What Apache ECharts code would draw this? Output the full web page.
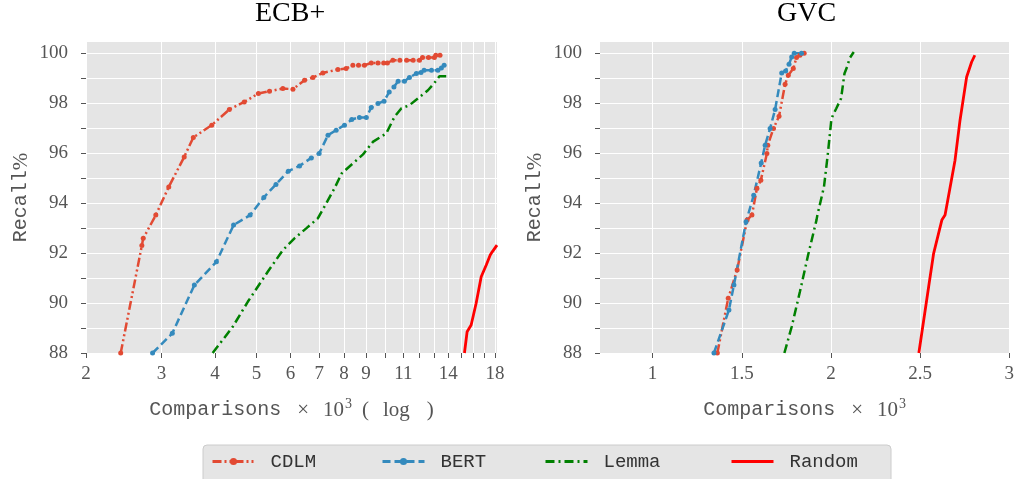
<!DOCTYPE html>
<html><head><meta charset="utf-8">
<script src="https://cdn.jsdelivr.net/npm/echarts@6/dist/echarts.min.js"></script>
<style>html,body{margin:0;padding:0;background:#fff}#c{width:1017px;height:479px}</style>
</head><body><div id="c"></div>
<script>
// ---------- data ----------
const seriesNames = ['CDLM', 'BERT', 'Lemma', 'Random'];
const panelTitles = ['ECB+', 'GVC'];
const ecbTickValues = [2, 3, 4, 5, 6, 7, 8, 9, 10, 11, 12, 13, 14, 15, 16, 17, 18];
const ecbLabelValues = [2, 3, 4, 5, 6, 7, 8, 9, 11, 14, 18];
const gvcTickValues = [1, 1.5, 2, 2.5, 3];
const recallTickValues = [88, 89, 90, 91, 92, 93, 94, 95, 96, 97, 98, 99, 100];
const recallLabelValues = [88, 90, 92, 94, 96, 98, 100];

// ECB+ (x: comparisons x 10^3, y: recall %)
const ecbCDLM = [[2.41,88],[2.70,92.3],[2.72,92.59],[2.91,93.52],[3.12,94.65],[3.39,95.85],[3.56,96.63],[3.93,97.12],
  [4.32,97.75],[4.68,98.05],[5.05,98.39],[5.36,98.48],[5.76,98.59],[6.08,98.56],[6.47,98.92],[6.77,99.03],[7.14,99.21],
  [7.74,99.35],[8.09,99.39],[8.39,99.52],[8.65,99.52],[8.93,99.52],[9.26,99.61],[9.6,99.61],[9.9,99.61],[10.1,99.61],
  [10.4,99.72],[10.8,99.72],[11.2,99.72],[11.6,99.72],[12.0,99.72],[12.2,99.83],[12.6,99.83],[13.0,99.83],[13.1,99.92],[13.4,99.92]];
const ecbBERT = [[2.86,88],[3.18,88.79],[3.58,90.72],[4.03,91.65],[4.42,93.12],[4.83,93.52],[5.2,94.23],[5.55,94.75],
  [5.93,95.28],[6.3,95.49],[6.71,95.81],[7.0,95.99],[7.34,96.72],[7.67,96.92],[8.02,97.12],[8.34,97.35],[8.69,97.43],
  [9.02,97.43],[9.26,97.83],[9.6,97.99],[9.92,98.08],[10.2,98.45],[10.46,98.65],[10.7,98.88],[11.07,98.88],[11.37,99.03],
  [11.8,99.19],[12.1,99.23],[12.3,99.32],[12.8,99.32],[13.25,99.32],[13.5,99.41],[13.7,99.52]];
const ecbLemma = [[3.95,88],[4.4,89.05],[4.77,90.05],[5.31,91.25],[5.76,92.12],[6.13,92.59],[6.53,92.99],[6.95,93.39],
  [7.27,93.99],[7.6,94.59],[7.9,95.19],[8.39,95.59],[8.86,95.95],[9.34,96.45],[10.04,96.79],[10.49,97.45],[10.88,97.79],
  [11.37,97.92],[11.9,98.19],[12.56,98.52],[13.0,98.81],[13.36,99.08],[13.98,99.08]];
const ecbRandom = [[15.28,88],[15.5,88.85],[15.84,89.12],[16.27,89.99],[16.72,91.05],[17.18,91.52],[17.55,91.92],[17.74,92.05],[18.2,92.32]];

// GVC
const gvcCDLM = [[1.363,88],[1.424,90.19],[1.474,91.32],[1.53,93.32],[1.557,93.52],[1.585,94.59],[1.607,94.92],[1.641,95.99],
  [1.646,96.32],[1.678,96.99],[1.709,97.48],[1.743,98.76],[1.761,99.12],[1.789,99.39],[1.807,99.83],[1.826,99.92],[1.85,100.0]];
const gvcBERT = [[1.344,88],[1.428,89.72],[1.456,90.72],[1.524,93.25],[1.567,94.32],[1.609,95.61],[1.631,96.32],[1.659,96.99],
  [1.687,97.75],[1.724,99.21],[1.746,99.29],[1.765,99.56],[1.78,99.85],[1.794,100.0],[1.835,100.0]];
const gvcLemma = [[1.739,88],[1.78,89.05],[1.826,90.45],[1.872,91.92],[1.919,93.32],[1.924,93.52],[1.961,94.65],[1.983,95.99],
  [2.002,97.32],[2.011,97.52],[2.03,97.79],[2.057,98.19],[2.076,99.19],[2.094,99.52],[2.104,99.79],[2.128,100.05]];
const gvcRandom = [[2.493,88],[2.548,90.65],[2.576,91.99],[2.622,93.32],[2.64,93.52],[2.696,95.72],[2.724,97.32],[2.761,99.05],[2.789,99.65],[2.807,99.92]];

// ---------- styling ----------
const serif = 'Liberation Serif';
const mono = 'Liberation Mono';
const grey = '#555';
const styles = {
  CDLM:   {color: '#E24A33', dash: [9, 3, 2, 3, 2, 3], width: 2.5, symbol: true},
  BERT:   {color: '#348ABD', dash: [8, 4], width: 2.5, symbol: true},
  Lemma:  {color: '#008000', dash: [9, 4, 2, 4], width: 2.5, symbol: false},
  Random: {color: '#FF0000', dash: 'solid', width: 2.8, symbol: false}
};
const LH = 26;
const nameRich = {
  m: {fontFamily: mono, fontSize: 20, color: grey, lineHeight: LH},
  x: {fontFamily: serif, fontSize: 21, color: grey, lineHeight: LH, padding: [0, 14, 0, 16]},
  s: {fontFamily: serif, fontSize: 21, color: grey, lineHeight: LH},
  p1: {fontFamily: serif, fontSize: 21, color: grey, lineHeight: LH, padding: [0, 0, 0, 10]},
  p2: {fontFamily: serif, fontSize: 21, color: grey, lineHeight: LH, padding: [0, 0, 0, 14]},
  p3: {fontFamily: serif, fontSize: 21, color: grey, lineHeight: LH, padding: [0, 0, 0, 17]},
  sup: {fontFamily: serif, fontSize: 14, color: grey, lineHeight: 12, verticalAlign: 'top', padding: [0, 0, 0, 1]}
};

function yAxis(gi) {
  return {
    type: 'value', gridIndex: gi, min: 88, max: 100.45,
    axisLine: {show: false},
    axisTick: {show: true, customValues: recallTickValues, length: 5, lineStyle: {color: grey}},
    axisLabel: {customValues: recallLabelValues, fontFamily: serif, fontSize: 19, color: grey, margin: 18},
    splitLine: {show: true, lineStyle: {color: '#ffffff', width: 1}},
    name: '{m|Recall}{s|%}', nameLocation: 'middle', nameGap: 52, nameRotate: 90,
    nameTextStyle: {rich: nameRich}
  };
}

function mkSeries(name, data, xi) {
  const s = styles[name];
  return {
    type: 'line', name: name, xAxisIndex: xi, yAxisIndex: xi, data: data,
    symbol: s.symbol ? 'circle' : 'none', showSymbol: s.symbol, symbolSize: 5,
    itemStyle: {color: s.color},
    lineStyle: {color: s.color, width: s.width, type: s.dash},
    animation: false, clip: true, z: 3
  };
}

const dataByPanel = [
  {CDLM: ecbCDLM, BERT: ecbBERT, Lemma: ecbLemma, Random: ecbRandom},
  {CDLM: gvcCDLM, BERT: gvcBERT, Lemma: gvcLemma, Random: gvcRandom}
];
const series = [];
dataByPanel.forEach((d, i) => seriesNames.forEach(n => series.push(mkSeries(n, d[n], i))));

const legendLefts = [211, 381, 544, 730];
const legends = seriesNames.map((n, i) => ({
  data: [styles[n].symbol ? {name: n} : {name: n, itemStyle: {opacity: 0}}],
  left: legendLefts[i], top: 452, padding: 0, z: 10,
  itemWidth: 42, itemHeight: 9,
  lineStyle: {width: 3},
  textStyle: {fontFamily: mono, fontSize: 19, color: '#333', padding: [0, 0, 0, 11]}
}));

const chart = echarts.init(document.getElementById('c'), null, {renderer: 'canvas'});
chart.setOption({
  animation: false,
  backgroundColor: '#ffffff',
  title: [
    {text: panelTitles[0], left: 255, top: 0, padding: 0, textStyle: {fontFamily: serif, fontSize: 28, fontWeight: 'normal', color: '#000'}},
    {text: panelTitles[1], left: 777, top: 0, padding: 0, textStyle: {fontFamily: serif, fontSize: 28, fontWeight: 'normal', color: '#000'}}
  ],
  grid: [
    {left: 86, top: 42, width: 411, height: 311, show: true, backgroundColor: '#E5E5E5', borderWidth: 0},
    {left: 600, top: 42, width: 412, height: 311, show: true, backgroundColor: '#E5E5E5', borderWidth: 0}
  ],
  xAxis: [
    {
      type: 'log', logBase: 10, gridIndex: 0, min: 2, max: 18.2,
      axisLine: {show: false},
      axisTick: {show: true, customValues: ecbTickValues, length: 5, lineStyle: {color: grey}},
      axisLabel: {customValues: ecbLabelValues, fontFamily: serif, fontSize: 19, color: grey, margin: 12,
        formatter: v => String(Math.round(v))},
      splitLine: {show: true, lineStyle: {color: '#ffffff', width: 1}},
      name: '{m|Comparisons}{x|×}{s|10}{sup|3}{p1|(}{p2|log}{p3|)}', nameLocation: 'middle', nameGap: 44,
      nameTextStyle: {rich: nameRich}
    },
    {
      type: 'value', gridIndex: 1, min: 0.705, max: 3,
      axisLine: {show: false},
      axisTick: {show: true, customValues: gvcTickValues, length: 5, lineStyle: {color: grey}},
      axisLabel: {customValues: gvcTickValues, fontFamily: serif, fontSize: 19, color: grey, margin: 12,
        formatter: v => String(v)},
      splitLine: {show: true, lineStyle: {color: '#ffffff', width: 1}},
      name: '{m|Comparisons}{x|×}{s|10}{sup|3}', nameLocation: 'middle', nameGap: 44,
      nameTextStyle: {rich: nameRich}
    }
  ],
  yAxis: [yAxis(0), yAxis(1)],
  legend: legends,
  graphic: [{
    type: 'rect', z: 1, silent: true,
    shape: {x: 203, y: 445, width: 688, height: 45, r: 4},
    style: {fill: '#E5E5E5', stroke: '#cccccc', lineWidth: 1}
  }],
  series: series
});
</script>
</body></html>
